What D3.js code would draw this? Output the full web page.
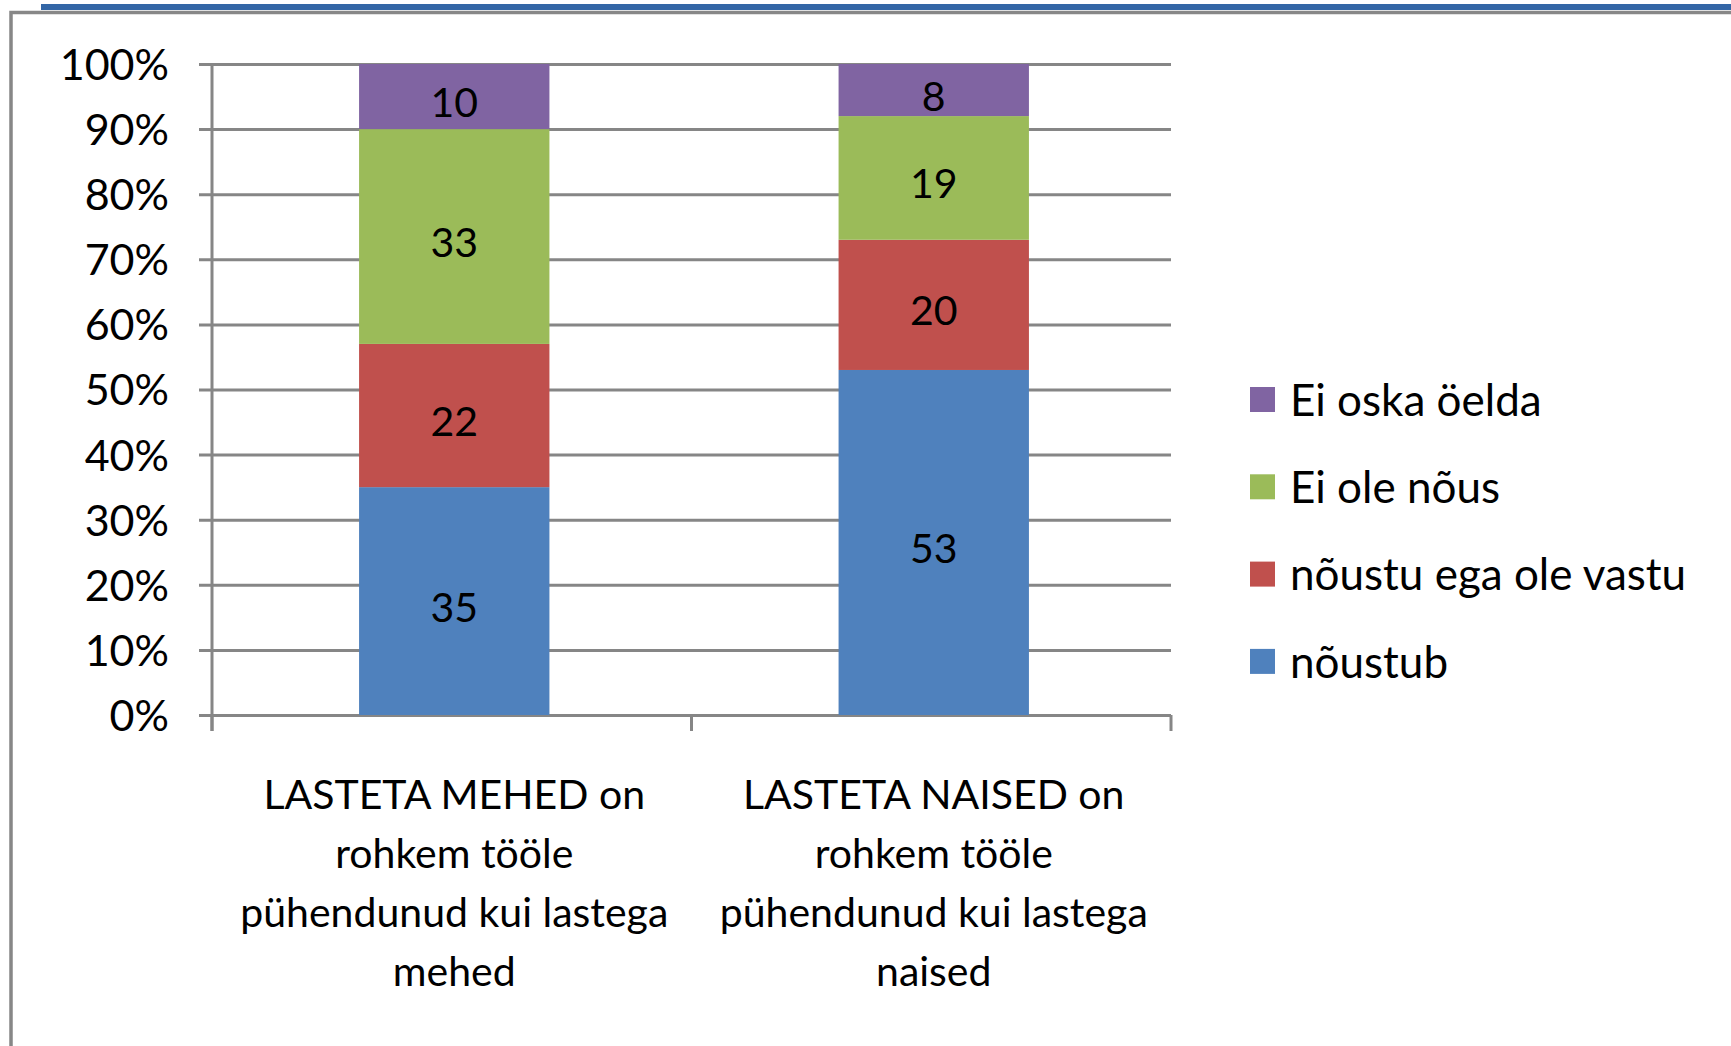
<!DOCTYPE html>
<html><head><meta charset="utf-8">
<script src="https://cdn.jsdelivr.net/npm/d3@7"></script>
<style>body{margin:0;background:#fff}svg{display:block}text{font-family:Lato,"Open Sans",sans-serif;fill:#000}</style>
</head><body><svg id="c" width="1731" height="1046"></svg>
<script>
const categories = ["LASTETA MEHED  on rohkem tööle pühendunud kui lastega mehed","LASTETA NAISED on rohkem tööle pühendunud kui lastega naised"];
const categoryLines = [["LASTETA MEHED  on","rohkem tööle","pühendunud kui lastega","mehed"],["LASTETA NAISED on","rohkem tööle","pühendunud kui lastega","naised"]];
const seriesNames = ["nõustub","nõustu ega ole vastu","Ei ole nõus","Ei oska öelda"];
const seriesColors = ["#4F81BD","#C0504D","#9BBB59","#8064A2"];
const noustub = [35,53];
const neutral = [22,20];
const eiOleNous = [33,19];
const eiOska = [10,8];
const yTicks = [0,10,20,30,40,50,60,70,80,90,100];

const values = [noustub, neutral, eiOleNous, eiOska];
const svg = d3.select("#c");
svg.append("rect").attr("width",1731).attr("height",1046).attr("fill","#fff");
// frame decorations
svg.append("line").attr("x1",41).attr("x2",1731).attr("y1",7).attr("y2",7).attr("stroke","#3366A6").attr("stroke-width",6);
svg.append("path").attr("d","M11,1046 V12.5 H1731").attr("fill","none").attr("stroke","#878787").attr("stroke-width",3.5);

const pL=212,pR=1171,pT=64,pB=715;
const y = d3.scaleLinear().domain([0,100]).range([pB,pT]);
const x = d3.scaleBand().domain(categories).range([pL,pR]).padding(0);

// gridlines + y labels
const ga = svg.append("g").attr("transform",`translate(199,0)`)
  .call(d3.axisLeft(y).tickValues(yTicks).tickSize(-(pR-199)).tickPadding(30).tickFormat(d=>d+"%"));
ga.select(".domain").remove();
ga.selectAll("line").attr("stroke","#868686").attr("stroke-width",3);
ga.selectAll("text").attr("font-size",43).attr("font-family","Lato").attr("fill","#000").attr("dy","0.36em");

// stacked data
const rows = categories.map((c,i)=>{const o={cat:c}; seriesNames.forEach((s,j)=>o[s]=values[j][i]); return o;});
const stack = d3.stack().keys(seriesNames)(rows);
const bw = x.bandwidth(), barW = bw*0.397, barOff = (bw-barW)/2 + 2.5;
const layers = svg.selectAll("g.layer").data(stack).join("g").attr("class","layer").attr("fill",(d,i)=>seriesColors[i]);
layers.selectAll("rect").data(d=>d).join("rect")
  .attr("x",d=>x(d.data.cat)+barOff).attr("width",barW)
  .attr("y",d=>y(d[1])).attr("height",d=>y(d[0])-y(d[1]));
layers.selectAll("text").data((d,i)=>d.map(e=>({e,key:seriesNames[i]}))).join("text")
  .attr("x",d=>x(d.e.data.cat)+barOff+barW/2).attr("y",d=>(y(d.e[0])+y(d.e[1]))/2).attr("dy","0.5em")
  .attr("text-anchor","middle").attr("font-size",41).attr("fill","#000")
  .text(d=>d.e.data[d.key]);

// axes lines
svg.append("line").attr("x1",pL).attr("x2",pL).attr("y1",pT).attr("y2",731).attr("stroke","#868686").attr("stroke-width",3);
const bounds = categories.map(c=>x(c)).concat([x(categories[categories.length-1])+bw]);
svg.selectAll("line.ct").data(bounds).join("line").attr("class","ct")
  .attr("x1",d=>d).attr("x2",d=>d).attr("y1",pB).attr("y2",731).attr("stroke","#868686").attr("stroke-width",3);

// category labels
categories.forEach((c,i)=>{
  const t = svg.append("text").attr("text-anchor","middle").attr("font-size",41);
  categoryLines[i].forEach((ln,k)=>t.append("tspan").attr("x",x(c)+barOff+barW/2).attr("y",809+k*59).text(ln));
});

// legend
const legendOrder = [3,2,1,0];
legendOrder.forEach((si,k)=>{
  const cy = 400 + k*87.3;
  svg.append("rect").attr("x",1250).attr("y",cy-13).attr("width",25).attr("height",25).attr("fill",seriesColors[si]);
  svg.append("text").attr("x",1290).attr("y",cy).attr("dy","0.36em").attr("font-size",44).text(seriesNames[si]);
});
</script></body></html>
